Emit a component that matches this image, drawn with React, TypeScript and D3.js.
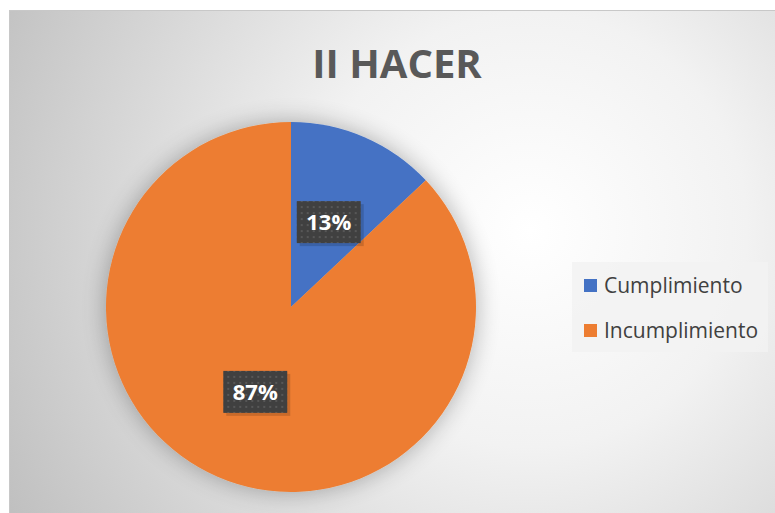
import React, { useEffect, useRef } from 'react';
import * as d3 from 'd3';

const categories = ['Cumplimiento', 'Incumplimiento'];
const values = [13, 87];
const colors = ['#4472C4', '#ED7D31'];
const title = 'II HACER';

const W = 775, H = 513;

export default function App() {
  const ref = useRef<SVGSVGElement>(null);

  useEffect(() => {
    const svg = d3.select(ref.current);
    svg.selectAll('*').remove();

    const defs = svg.append('defs');
    const grad = defs.append('radialGradient')
      .attr('id', 'bg')
      .attr('gradientUnits', 'userSpaceOnUse')
      .attr('cx', 530).attr('cy', 230).attr('r', 620);
    grad.append('stop').attr('offset', '0%').attr('stop-color', '#ffffff');
    grad.append('stop').attr('offset', '35%').attr('stop-color', '#f2f2f2');
    grad.append('stop').attr('offset', '100%').attr('stop-color', '#bcbcbc');

    const shadow = defs.append('filter').attr('id', 'shadow')
      .attr('x', '-20%').attr('y', '-20%').attr('width', '140%').attr('height', '140%');
    shadow.append('feGaussianBlur').attr('in', 'SourceAlpha').attr('stdDeviation', 12);
    shadow.append('feOffset').attr('dx', 0).attr('dy', 0).attr('result', 'b');
    shadow.append('feComponentTransfer').append('feFuncA').attr('type', 'linear').attr('slope', 0.3);
    const merge = shadow.append('feMerge');
    merge.append('feMergeNode');
    merge.append('feMergeNode').attr('in', 'SourceGraphic');

    const pat = defs.append('pattern').attr('id', 'dots')
      .attr('patternUnits', 'userSpaceOnUse').attr('width', 6).attr('height', 6);
    pat.append('rect').attr('width', 6).attr('height', 6).attr('fill', '#404040');
    pat.append('rect').attr('x', 2).attr('y', 2).attr('width', 2).attr('height', 2).attr('fill', '#575757');

    svg.append('rect').attr('width', W).attr('height', H).attr('fill', '#ffffff');
    svg.append('rect')
      .attr('x', 9.5).attr('y', 10.5).attr('width', W).attr('height', H)
      .attr('fill', 'url(#bg)').attr('stroke', '#c8c8c8');

    svg.append('text')
      .attr('x', 397).attr('y', 78)
      .attr('text-anchor', 'middle')
      .attr('font-family', 'Open Sans, sans-serif')
      .attr('font-weight', 'bold')
      .attr('font-size', 40)
      .attr('fill', '#595959')
      .text(title);

    const cx = 291, cy = 307, r = 185;
    const pie = d3.pie<number>().sort(null).value(d => d);
    const arc = d3.arc<d3.PieArcDatum<number>>().innerRadius(0).outerRadius(r);
    const arcs = pie(values);

    const g = svg.append('g').attr('transform', `translate(${cx},${cy})`);
    g.append('g').attr('filter', 'url(#shadow)')
      .selectAll('path').data(arcs).enter().append('path')
      .attr('d', arc)
      .attr('fill', (d, i) => colors[i]);

    const total = d3.sum(values);
    const labelArc = d3.arc<d3.PieArcDatum<number>>().innerRadius(r * 0.5).outerRadius(r * 0.5);
    const lab = g.selectAll('.lab').data(arcs).enter().append('g')
      .attr('class', 'lab')
      .attr('transform', d => {
        const [x, y] = labelArc.centroid(d);
        return `translate(${x + 1},${y})`;
      });
    lab.append('rect')
      .attr('x', -29).attr('y', -18).attr('width', 64).attr('height', 42)
      .attr('fill', 'rgba(0,0,0,0.15)');
    lab.append('rect')
      .attr('x', -32).attr('y', -21).attr('width', 64).attr('height', 42)
      .attr('fill', 'url(#dots)');
    lab.append('text')
      .attr('text-anchor', 'middle')
      .attr('y', 8)
      .attr('font-family', 'Open Sans, sans-serif')
      .attr('font-weight', 'bold')
      .attr('font-size', 22)
      .attr('fill', '#ffffff')
      .text(d => `${Math.round(d.data / total * 100)}%`);

    const leg = svg.append('g').attr('transform', 'translate(572,262)');
    leg.append('rect').attr('width', 196).attr('height', 90).attr('fill', '#f2f2f2').attr('opacity', 0.85);
    const items = leg.selectAll('.it').data(categories).enter().append('g')
      .attr('class', 'it')
      .attr('transform', (d, i) => `translate(12,${17 + i * 45})`);
    items.append('rect').attr('width', 13).attr('height', 13).attr('fill', (d, i) => colors[i]);
    items.append('text')
      .attr('x', 20).attr('y', 13.5)
      .attr('font-family', 'Open Sans, sans-serif')
      .attr('font-size', 21)
      .attr('fill', '#404040')
      .text(d => d);
  }, []);

  return (
    <svg ref={ref} width={W} height={H}
      style={{ position: 'absolute', left: 0, top: 0, display: 'block' }} />
  );
}
